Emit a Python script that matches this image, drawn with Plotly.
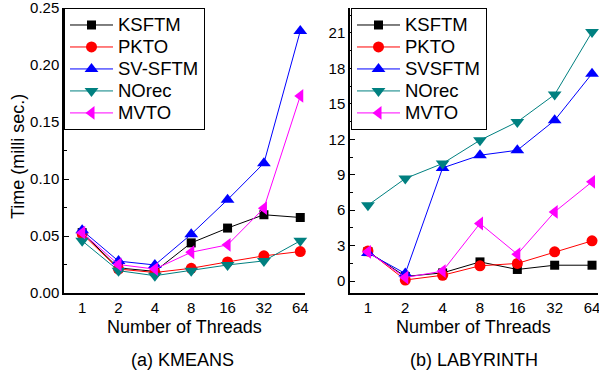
import plotly.graph_objects as go

threads = ["1", "2", "4", "8", "16", "32", "64"]

# KMEANS timings (milli sec.)
km_ksftm = [0.053, 0.022, 0.019, 0.044, 0.057, 0.0687, 0.0663]
km_pkto = [0.052, 0.021, 0.018, 0.0217, 0.0273, 0.0326, 0.0364]
km_svsftm = [0.055, 0.028, 0.0246, 0.0516, 0.0819, 0.114, 0.230]
km_norec = [0.0458, 0.0196, 0.0152, 0.0196, 0.0246, 0.0282, 0.0458]
km_mvto = [0.053, 0.025, 0.021, 0.0358, 0.0423, 0.0745, 0.173]

# LABYRINTH timings
lab_ksftm = [2.5, 0.4, 0.7, 1.63, 0.99, 1.35, 1.35]
lab_pkto = [2.56, 0.1, 0.5, 1.3, 1.5, 2.48, 3.41]
lab_svsftm = [2.39, 0.65, 9.58, 10.65, 11.07, 13.6, 17.55]
lab_norec = [6.42, 8.68, 9.95, 11.92, 13.47, 15.78, 21.07]
lab_mvto = [2.48, 0.31, 0.85, 4.88, 2.28, 5.86, 8.4]

left_names = ["KSFTM", "PKTO", "SV-SFTM", "NOrec", "MVTO"]
right_names = ["KSFTM", "PKTO", "SVSFTM", "NOrec", "MVTO"]
colors = ["#000000", "#FF0000", "#0000FF", "#008080", "#FF00FF"]
symbols = ["square", "circle", "triangle-up", "triangle-down", "triangle-left"]
sizes = [9, 11, 12, 12, 12]

W, H = 599, 376
FONT = "Liberation Sans, Arial, sans-serif"


def px_x(p):
    return p / W


def px_y(p):
    return 1 - p / H


def legend_label(name):
    # larger glyphs than the row spacing the legend font implies
    return f'<span style="font-size:18.5px">{name}</span>'


fig = go.Figure()

left_series = [km_ksftm, km_pkto, km_svsftm, km_norec, km_mvto]
right_series = [lab_ksftm, lab_pkto, lab_svsftm, lab_norec, lab_mvto]

for i, vals in enumerate(left_series):
    fig.add_trace(go.Scatter(
        x=threads, y=vals, name=legend_label(left_names[i]), mode="lines+markers",
        line=dict(color=colors[i], width=1),
        marker=dict(symbol=symbols[i], size=sizes[i], color=colors[i]),
        xaxis="x", yaxis="y", legend="legend", cliponaxis=False,
    ))

for i, vals in enumerate(right_series):
    fig.add_trace(go.Scatter(
        x=threads, y=vals, name=legend_label(right_names[i]), mode="lines+markers",
        line=dict(color=colors[i], width=1),
        marker=dict(symbol=symbols[i], size=sizes[i], color=colors[i]),
        xaxis="x2", yaxis="y2", legend="legend2", cliponaxis=False,
    ))

axis_common = dict(
    showline=True, linecolor="black", linewidth=1.5, mirror=False,
    showgrid=False, zeroline=False, automargin=False,
    ticklabeloverflow="allow",
    tickfont=dict(family=FONT, size=15, color="black"),
)

y_dom = [px_y(293), px_y(8)]

legend_common = dict(
    xanchor="left", yanchor="top",
    bgcolor="white", bordercolor="black", borderwidth=1,
    font=dict(family=FONT, size=14.6, color="black"),
    tracegroupgap=0, itemsizing="trace", itemwidth=43,
)

fig.update_layout(
    width=W, height=H,
    margin=dict(l=0, r=0, t=0, b=0, autoexpand=False),
    paper_bgcolor="white", plot_bgcolor="white",
    font=dict(family=FONT, color="black"),
    xaxis=dict(domain=[px_x(64), px_x(305)], type="category",
               range=[-0.5, 6.13], ticks="", anchor="y", **axis_common),
    yaxis=dict(domain=y_dom, range=[0, 0.2502], dtick=0.05, tick0=0,
               tickformat=".2f", ticks="inside", ticklen=5, tickcolor="black",
               minor=dict(dtick=0.025, ticks="inside", ticklen=3, tickcolor="black"),
               anchor="x", **axis_common),
    xaxis2=dict(domain=[px_x(350), px_x(598)], type="category",
                range=[-0.48, 6.16], ticks="", anchor="y2", **axis_common),
    yaxis2=dict(domain=y_dom, range=[-1.0, 23.1], dtick=3, tick0=0,
                ticks="inside", ticklen=5, tickcolor="black",
                minor=dict(dtick=1.5, ticks="inside", ticklen=3, tickcolor="black"),
                anchor="x2", **axis_common),
    legend=dict(x=px_x(64), y=px_y(8), **legend_common),
    legend2=dict(x=px_x(351), y=px_y(8), **legend_common),
    showlegend=True,
)

annots = [
    dict(text="Number of Threads", x=px_x(184), y=px_y(327)),
    dict(text="(a) KMEANS", x=px_x(182), y=px_y(360)),
    dict(text="Number of Threads", x=px_x(473), y=px_y(327)),
    dict(text="(b) LABYRINTH", x=px_x(474), y=px_y(360)),
    dict(text="Time (milli sec.)", x=px_x(18), y=px_y(157), textangle=-90),
]
for a in annots:
    fig.add_annotation(xref="paper", yref="paper", showarrow=False,
                       xanchor="center", yanchor="middle",
                       font=dict(family=FONT, size=18, color="black"), **a)

fig.write_html("out.html")
